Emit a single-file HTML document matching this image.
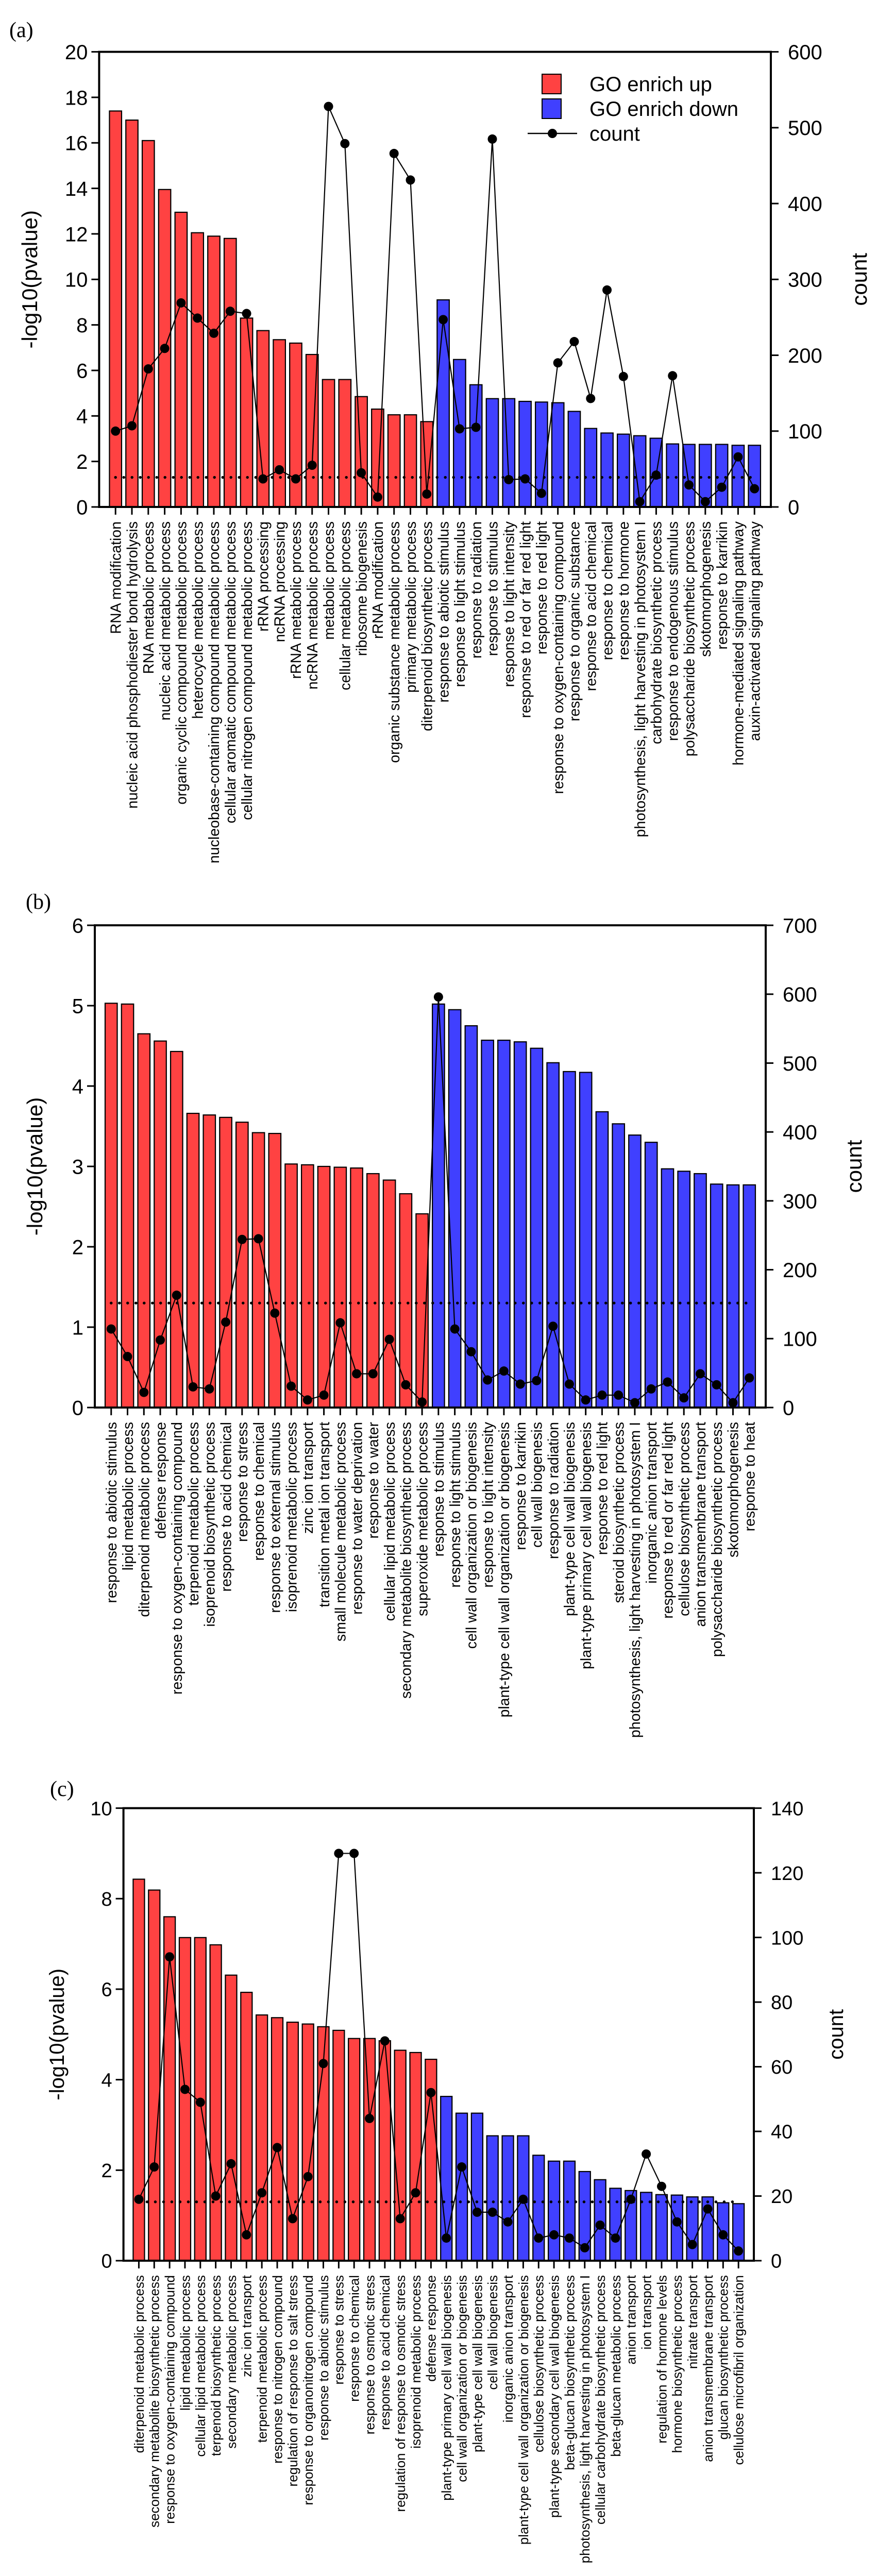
<!DOCTYPE html>
<html><head><meta charset="utf-8"><style>
html,body{margin:0;padding:0;background:#fff;width:1702px;height:5040px;overflow:hidden;}
svg{display:block;font-family:"Liberation Sans",Arial,sans-serif;}
</style></head><body>
<svg id="chart" xmlns="http://www.w3.org/2000/svg" width="1702" height="5040" viewBox="0 0 1702 5040">
<rect x="0" y="0" width="1702" height="5040" fill="#fff"/>
</svg>
<script>
// ---------- Panel (a) data ----------
const catsA = ["RNA modification","nucleic acid phosphodiester bond hydrolysis","RNA metabolic process","nucleic acid metabolic process","organic cyclic compound metabolic process","heterocycle metabolic process","nucleobase-containing compound metabolic process","cellular aromatic compound metabolic process","cellular nitrogen compound metabolic process","rRNA processing","ncRNA processing","rRNA metabolic process","ncRNA metabolic process","metabolic process","cellular metabolic process","ribosome biogenesis","rRNA modification","organic substance metabolic process","primary metabolic process","diterpenoid biosynthetic process",
"response to abiotic stimulus","response to light stimulus","response to radiation","response to stimulus","response to light intensity","response to red or far red light","response to red light","response to oxygen-containing compound","response to organic substance","response to acid chemical","response to chemical","response to hormone","photosynthesis, light harvesting in photosystem I","carbohydrate biosynthetic process","response to endogenous stimulus","polysaccharide biosynthetic process","skotomorphogenesis","response to karrikin","hormone-mediated signaling pathway","auxin-activated signaling pathway"];
const upA = [17.4,17.0,16.1,13.95,12.95,12.05,11.9,11.8,8.3,7.75,7.35,7.2,6.7,5.6,5.6,4.85,4.3,4.05,4.05,3.75];
const downA = [9.1,6.48,5.37,4.76,4.76,4.64,4.61,4.58,4.2,3.45,3.25,3.2,3.13,3.02,2.77,2.75,2.75,2.75,2.71,2.71];
const countA = [100,107,182,209,269,249,229,258,255,37,49,37,55,528,479,45,13,466,431,17,
247,103,105,485,36,37,18,190,218,143,286,172,7,42,173,29,7,26,66,24];
const leftTicksA = [0,2,4,6,8,10,12,14,16,18,20];
const rightTicksA = [0,100,200,300,400,500,600];

// ---------- Panel (b) data ----------
const catsB = ["response to abiotic stimulus","lipid metabolic process","diterpenoid metabolic process","defense response","response to oxygen-containing compound","terpenoid metabolic process","isoprenoid biosynthetic process","response to acid chemical","response to stress","response to chemical","response to external stimulus","isoprenoid metabolic process","zinc ion transport","transition metal ion transport","small molecule metabolic process","response to water deprivation","response to water","cellular lipid metabolic process","secondary metabolite biosynthetic process","superoxide metabolic process",
"response to stimulus","response to light stimulus","cell wall organization or biogenesis","response to light intensity","plant-type cell wall organization or biogenesis","response to karrikin","cell wall biogenesis","response to radiation","plant-type cell wall biogenesis","plant-type primary cell wall biogenesis","response to red light","steroid biosynthetic process","photosynthesis, light harvesting in photosystem I","inorganic anion transport","response to red or far red light","cellulose biosynthetic process","anion transmembrane transport","polysaccharide biosynthetic process","skotomorphogenesis","response to heat"];
const upB = [5.03,5.02,4.65,4.56,4.43,3.66,3.64,3.61,3.55,3.42,3.41,3.03,3.02,3.0,2.99,2.98,2.91,2.83,2.66,2.41];
const downB = [5.02,4.95,4.75,4.57,4.57,4.55,4.47,4.29,4.18,4.17,3.68,3.53,3.39,3.30,2.97,2.94,2.91,2.78,2.77,2.77];
const countB = [114,74,22,98,163,30,27,124,244,245,137,31,11,18,123,49,49,99,33,8,
596,114,81,40,53,34,39,118,34,11,18,18,7,27,37,14,49,33,7,43];
const leftTicksB = [0,1,2,3,4,5,6];
const rightTicksB = [0,100,200,300,400,500,600,700];

// ---------- Panel (c) data ----------
const catsC = ["diterpenoid metabolic process","secondary metabolite biosynthetic process","response to oxygen-containing compound","lipid metabolic process","cellular lipid metabolic process","terpenoid biosynthetic process","secondary metabolic process","zinc ion transport","terpenoid metabolic process","response to nitrogen compound","regulation of response to salt stress","response to organonitrogen compound","response to abiotic stimulus","response to stress","response to chemical","response to osmotic stress","response to acid chemical","regulation of response to osmotic stress","isoprenoid metabolic process","defense response",
"plant-type primary cell wall biogenesis","cell wall organization or biogenesis","plant-type cell wall biogenesis","cell wall biogenesis","inorganic anion transport","plant-type cell wall organization or biogenesis","cellulose biosynthetic process","plant-type secondary cell wall biogenesis","beta-glucan biosynthetic process","photosynthesis, light harvesting in photosystem I","cellular carbohydrate biosynthetic process","beta-glucan metabolic process","anion transport","ion transport","regulation of hormone levels","hormone biosynthetic process","nitrate transport","anion transmembrane transport","glucan biosynthetic process","cellulose microfibril organization"];
const upC = [8.43,8.19,7.6,7.14,7.14,6.98,6.31,5.93,5.43,5.37,5.27,5.23,5.17,5.09,4.91,4.91,4.86,4.65,4.6,4.45];
const downC = [3.63,3.26,3.26,2.76,2.76,2.76,2.33,2.2,2.2,1.97,1.79,1.6,1.55,1.51,1.46,1.45,1.41,1.41,1.28,1.26];
const countC = [19,29,94,53,49,20,30,8,21,35,13,26,61,126,126,44,68,13,21,52,
7,29,15,15,12,19,7,8,7,4,11,7,19,33,23,12,5,16,8,3];
const leftTicksC = [0,2,4,6,8,10];
const rightTicksC = [0,20,40,60,80,100,120,140];

const threshold = 1.3;

const NS = "http://www.w3.org/2000/svg";
const svg = document.getElementById('chart');
function mk(tag, attrs, parent){
  const e = document.createElementNS(NS, tag);
  for (const k in attrs) e.setAttribute(k, attrs[k]);
  (parent||svg).appendChild(e);
  return e;
}

function drawPanel(p){
  const g = mk('g', {});
  
  
  const values = p.up.concat(p.down);
  const n = values.length;
  const slot = (p.x1 - p.x0) / (n + 1);
  const bw = slot * 0.74;
  const xC = i => p.x0 + (i + 1) * slot;
  const yL = v => p.y0 - (v / p.lmax) * (p.y0 - p.y1);
  const yR = v => p.y0 - (v / p.rmax) * (p.y0 - p.y1);

  values.forEach((v, i) => {
    const isUp = i < p.up.length;
    const r = mk('rect', {x: xC(i) - bw/2, y: yL(v), width: bw, height: p.y0 - yL(v),
      fill: isUp ? '#FF4242' : '#4040FF', stroke: '#000', 'stroke-width': 2.2}, g);
    
    
  });

  const th = mk('line', {x1: xC(0), x2: xC(n-1), y1: yL(threshold), y2: yL(threshold),
    stroke: '#000', 'stroke-width': 5.5, 'stroke-linecap': 'round', 'stroke-dasharray': '0 16'}, g);
  
  

  const pts = p.count.map((c, i) => xC(i) + ',' + yR(c)).join(' ');
  const pl = mk('polyline', {points: pts, fill: 'none', stroke: '#000', 'stroke-width': 2.2}, g);
  
  
  p.count.forEach((c, i) => {
    const d = mk('circle', {cx: xC(i), cy: yR(c), r: 9, fill: '#000'}, g);
    
    
  });

  const fr = mk('path', {d: `M${p.x0},${p.y0} L${p.x0},${p.y1} L${p.x1},${p.y1} L${p.x1},${p.y0} Z`,
    fill: 'none', stroke: '#000', 'stroke-width': 4}, g);
  
  

  p.lticks.forEach(t => {
    const y = yL(t);
    const tk = mk('line', {x1: p.x0 - 15, x2: p.x0, y1: y, y2: y, stroke: '#000', 'stroke-width': 3}, g);
    
    
    const tx = mk('text', {x: p.x0 - 22, y: y + p.tfs*0.36, 'text-anchor': 'end', 'font-size': p.tfs}, g);
    tx.textContent = t;
    
    
  });
  p.rticks.forEach(t => {
    const y = yR(t);
    const tk = mk('line', {x1: p.x1, x2: p.x1 + 15, y1: y, y2: y, stroke: '#000', 'stroke-width': 3}, g);
    
    
    const tx = mk('text', {x: p.x1 + 33, y: y + p.tfs*0.36, 'text-anchor': 'start', 'font-size': p.tfs}, g);
    tx.textContent = t;
    
    
  });
  p.cats.forEach((c, i) => {
    const x = xC(i);
    const tk = mk('line', {x1: x, x2: x, y1: p.y0, y2: p.y0 + 15, stroke: '#000', 'stroke-width': 3}, g);
    
    
    const lx = x + p.lfs*0.36, ly = p.y0 + 28;
    const tx = mk('text', {x: lx, y: ly, 'text-anchor': 'end', 'font-size': p.lfs,
      transform: `rotate(-90 ${lx} ${ly})`}, g);
    tx.textContent = c;
    
    
  });
  const ym = (p.y0 + p.y1) / 2;
  const yt = mk('text', {x: p.ytx, y: ym, 'text-anchor': 'middle', 'font-size': p.afs,
    transform: `rotate(-90 ${p.ytx} ${ym})`}, g);
  yt.textContent = '-log10(pvalue)';
  
  
  const rt = mk('text', {x: p.rtx, y: ym, 'text-anchor': 'middle', 'font-size': p.afs,
    transform: `rotate(-90 ${p.rtx} ${ym})`}, g);
  rt.textContent = 'count';
  
  
  const pl2 = mk('text', {x: p.px, y: p.py, 'font-size': 42, 'font-family': '"Liberation Serif", serif'}, g);
  pl2.textContent = '(' + p.id + ')';
  
  
}

drawPanel({id:'a', cats:catsA, up:upA, down:downA, count:countA, lticks:leftTicksA, rticks:rightTicksA,
  x0:192.4, x1:1496, y0:984, y1:100.6, lmax:20, rmax:600, tfs:40, lfs:28.5, afs:42,
  ytx:72, rtx:1682, px:18, py:72});
drawPanel({id:'b', cats:catsB, up:upB, down:downB, count:countB, lticks:leftTicksB, rticks:rightTicksB,
  x0:184, x1:1486, y0:2732, y1:1796, lmax:6, rmax:700, tfs:40, lfs:28.5, afs:42,
  ytx:82, rtx:1672, px:50, py:1764});
drawPanel({id:'c', cats:catsC, up:upC, down:downC, count:countC, lticks:leftTicksC, rticks:rightTicksC,
  x0:239.6, x1:1463, y0:4388, y1:3509.6, lmax:10, rmax:140, tfs:38, lfs:26, afs:40,
  ytx:124, rtx:1636, px:97, py:3486});

const lg = mk('g', {});


const l1 = mk('rect', {x:1052, y:144, width:37, height:38, fill:'#FF4242', stroke:'#000', 'stroke-width':2}, lg);


const l2 = mk('rect', {x:1052, y:192, width:37, height:38, fill:'#4040FF', stroke:'#000', 'stroke-width':2}, lg);


const l3 = mk('line', {x1:1024, x2:1120, y1:259, y2:259, stroke:'#000', 'stroke-width':2.5}, lg);


const l4 = mk('circle', {cx:1072, cy:259, r:9, fill:'#000'}, lg);


[['GO enrich up',177],['GO enrich down',225],['count',273]].forEach(([t,y]) => {
  const e = mk('text', {x:1144, y:y, 'font-size':40}, lg);
  e.textContent = t;
  
  
});
</script>
</body></html>
